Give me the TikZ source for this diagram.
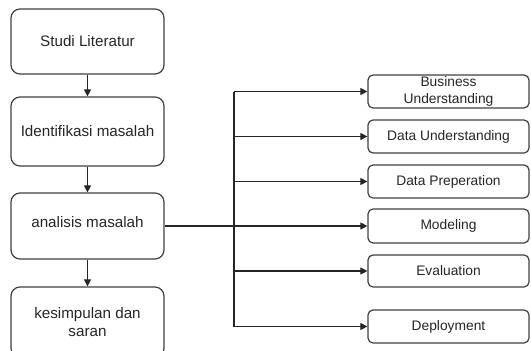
\documentclass[tikz,border=0pt]{standalone}
\usepackage{fontspec}
\setmainfont{Liberation Sans}
\usetikzlibrary{arrows.meta}
\begin{document}
\begin{tikzpicture}[x=1pt,y=-1pt,
  lbox/.style={draw=black!75, line width=1.2pt, rounded corners=9pt, minimum width=153pt, inner sep=0pt, align=center, font=\fontsize{15.2}{18}\selectfont, text=black!85},
  rbox/.style={draw=black!75, line width=1.2pt, rounded corners=5pt, minimum width=161pt, minimum height=33pt, inner sep=0pt, align=center, font=\fontsize{13.8}{17}\selectfont, text=black!85},
  conn/.style={draw=black!85, line width=1.1pt},
  arr/.style={conn, -{Triangle[length=7pt,width=7pt]}}]
\useasboundingbox (0,0) rectangle (531,351);
\clip (0,0) rectangle (531,351);
\node[lbox, minimum height=65pt] (a1) at (87.5,41.5) {Studi Literatur};
\node[lbox, minimum height=69pt] (a2) at (87.5,131.5) {Identifikasi masalah};
\node[lbox, minimum height=66pt] (a3) at (87.5,226) {\raisebox{8pt}{analisis masalah}};
\node[lbox, minimum height=70pt] (a4) at (87.5,322) {kesimpulan dan\\saran};
\node[rbox] (b1) at (448.5,91.5) {Business\\Understanding};
\node[rbox] (b2) at (448.5,136.5) {Data Understanding};
\node[rbox] (b3) at (448.5,181.5) {Data Preperation};
\node[rbox, minimum height=34pt] (b4) at (448.5,226) {Modeling};
\node[rbox, minimum height=32pt] (b5) at (448.5,271) {Evaluation};
\node[rbox] (b6) at (448.5,326.5) {Deployment};
\draw[arr] (a1) -- (a2);
\draw[arr] (a2) -- (a3);
\draw[arr] (a3) -- (a4);
\coordinate (trunk) at (234,0);
\draw[conn] (trunk |- b1.west) -- (trunk |- b6.west);
\draw[arr] (a3.east) -- (b4.west);
\foreach \b in {b1,b2,b3,b5,b6} {\draw[arr] (trunk |- \b.west) -- (\b.west);}
\end{tikzpicture}
\end{document}
